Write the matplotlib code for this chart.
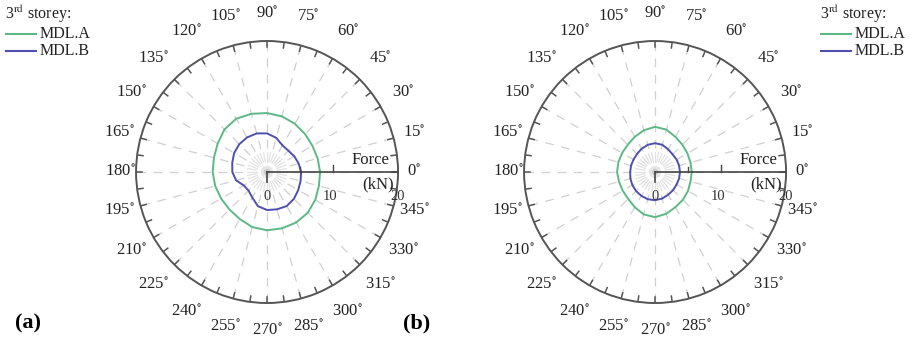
import numpy as np
import matplotlib
matplotlib.use("Agg")
import matplotlib.pyplot as plt

plt.rcParams['font.family'] = ['Liberation Serif', 'DejaVu Serif']
plt.rcParams['mathtext.fontset'] = 'stix'

# force (kN) read every 15 degrees, 0..345
angles_deg = np.arange(0, 360, 15)
a_mdlA = [8.1, 8.0, 8.0, 8.2, 8.5, 8.8, 9.0, 9.2, 9.4, 9.2, 8.7, 8.4,
          8.3, 8.2, 8.1, 8.1, 8.3, 8.7, 8.9, 8.9, 8.9, 8.8, 8.5, 8.2]
a_mdlB = [5.2, 5.0, 4.8, 4.6, 4.7, 5.4, 5.9, 6.1, 6.1, 6.0, 5.8, 5.5,
          5.3, 4.9, 4.1, 4.0, 4.5, 5.4, 5.8, 5.9, 6.0, 5.8, 5.5, 5.3]
b_mdlA = [5.6, 5.6, 5.7, 5.9, 6.2, 6.7, 6.9, 6.6, 6.2, 5.9, 5.8, 5.8,
          5.8, 5.7, 5.7, 5.8, 6.2, 6.7, 6.9, 6.6, 6.2, 6.0, 5.8, 5.6]
b_mdlB = [3.8, 3.8, 3.8, 3.8, 4.0, 4.3, 4.4, 4.3, 4.1, 3.9, 3.8, 3.8,
          3.8, 3.9, 4.0, 4.1, 4.2, 4.3, 4.3, 4.2, 4.0, 3.9, 3.8, 3.8]
r_ticks = [0, 10, 20]
rmax = 20

green = '#5db887'
blue = '#4f4fae'
dark = '#555555'


def xy(x, y):
    # cartesian (kN) -> polar (theta, r)
    return np.arctan2(y, x), np.hypot(x, y)


def polar_panel(ax, rA, rB):
    ax.set_ylim(0, rmax)
    ax.grid(False)
    ax.set_xticks([])
    ax.set_yticks([])
    ax.spines['polar'].set_color(dark)
    ax.spines['polar'].set_linewidth(1.4)

    # dashed spokes
    for d in range(0, 360, 15):
        t = np.deg2rad(d)
        ax.plot([t, t], [3.6, rmax], color='#d0d0d0', lw=0.9,
                dashes=(7, 6), zorder=1)
    # inner starburst
    for d in np.arange(0, 360, 10):
        t = np.deg2rad(d)
        ax.plot([t, t], [1.6, 3.0], color='#e2e2e2', lw=0.9, zorder=1)
    ax.scatter([0], [0], s=80, color='#e6e6e6', zorder=1, edgecolors='none')
    ax.scatter([0], [0], s=22, color='#cccccc', zorder=1, edgecolors='none')

    # inward ticks on the outer circle
    for d in np.arange(0, 360, 7.5):
        t = np.deg2rad(d)
        ax.plot([t, t], [rmax - 0.9, rmax], color=dark, lw=1.1, zorder=3)

    # curves
    th = np.deg2rad(np.append(angles_deg, 360))
    ax.plot(th, np.append(rA, rA[0]), color=green, lw=1.4, zorder=4)
    ax.plot(th, np.append(rB, rB[0]), color=blue, lw=1.4, zorder=4)

    # radial axis
    ax.plot([0, 0], [0, rmax], color='#444444', lw=1.2, zorder=5)
    t0, r0 = xy(0, -1.5)
    ax.plot([t0, t0], [0, r0], color='#444444', lw=1.2, zorder=5)
    for rv, h in [(5, 0.8), (10, 1.0)]:
        ta, ra = xy(rv, 0)
        tb, rb = xy(rv, h)
        ax.plot([ta, tb], [ra, rb], color='#444444', lw=1.0, zorder=5)
    for rv, dx in zip(r_ticks, [0, -0.4, 0]):
        t, r = xy(rv + dx, -3.7)
        ax.text(t, r, str(rv), ha='center', va='center', fontsize=10.5,
                color='#333333', zorder=6)
    t, r = xy(15.8, 1.8)
    ax.text(t, r, 'Force', ha='center', va='center', fontsize=12,
            color='#222222', zorder=6)
    t, r = xy(17.0, -1.9)
    ax.text(t, r, '(kN)', ha='center', va='center', fontsize=12,
            color='#222222', zorder=6)

    # angle labels
    for d in range(0, 360, 15):
        t = np.deg2rad(d)
        f = 1.12 + 0.09 * abs(np.sin(t)) + 0.04 * abs(np.sin(2 * t))
        ax.text(t, rmax * f, f"{d}$^{{\\circ}}$", ha='center', va='center',
                fontsize=12, color='#222222', clip_on=False)


fig = plt.figure(figsize=(9.21, 3.43), dpi=100)
axA = fig.add_axes([0.1477, 0.1166, 0.2845, 0.7638], projection='polar')
axB = fig.add_axes([0.5690, 0.1166, 0.2845, 0.7638], projection='polar')
polar_panel(axA, a_mdlA, a_mdlB)
polar_panel(axB, b_mdlA, b_mdlB)

# legends
for x0 in [5, 820]:
    fx = x0 / 921
    fig.text(fx, 1 - 14 / 343, "3$^{\\mathrm{rd}}$ storey:", fontsize=11.5,
             va='center', ha='left', color='#222222')
    for yy, c, lab in [(34, green, 'MDL.A'), (51, blue, 'MDL.B')]:
        fy = 1 - yy / 343
        fig.add_artist(plt.Line2D([fx + 1 / 921, fx + 31 / 921], [fy, fy],
                                  color=c, lw=1.5))
        fig.text(fx + 35 / 921, fy, lab, fontsize=11.5, va='center',
                 ha='left', color='#222222')

fig.text(15 / 921, 1 - 323 / 343, '(a)', fontsize=16, fontweight='bold',
         va='center', ha='left')
fig.text(403 / 921, 1 - 323 / 343, '(b)', fontsize=16, fontweight='bold',
         va='center', ha='left')

fig.savefig('out.png', dpi=100)
